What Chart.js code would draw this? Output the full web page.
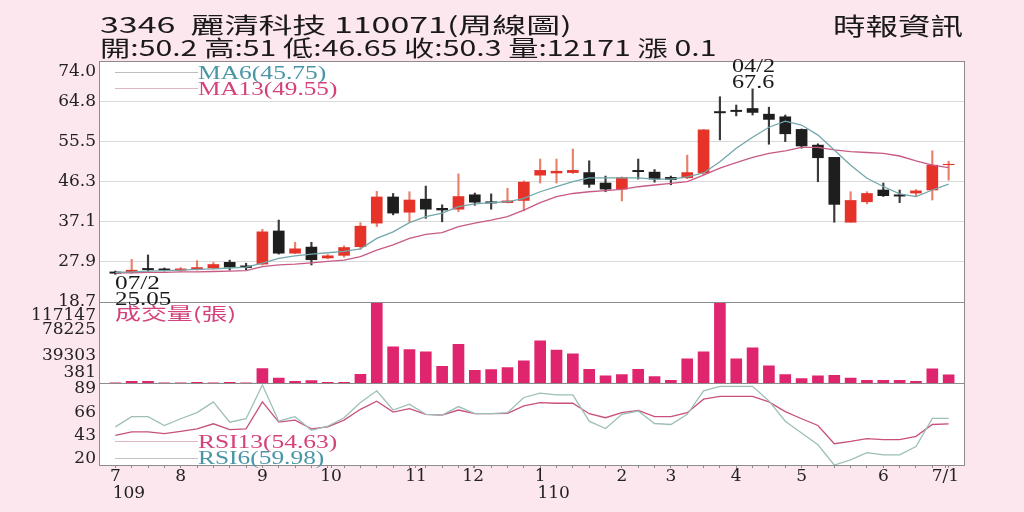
<!DOCTYPE html>
<html>
<head>
<meta charset="utf-8">
<script src="https://cdn.jsdelivr.net/npm/chart.js"></script>
<style>
body{margin:0;background:#fde7ee;}
#page{position:relative;width:1024px;height:512px;overflow:hidden;background:#fde7ee;}
.box{position:absolute;left:0;width:975px;}
.plot{position:absolute;left:99px;width:866px;top:61px;height:404px;background:#fff;}
.txt{position:absolute;white-space:pre;line-height:1;transform-origin:0 0;}
.rule{position:absolute;left:115px;width:83px;height:1px;}
</style>
</head>
<body>
<div id="page">
  <div class="plot"></div>
  <div class="box" style="top:37px;height:289px"><canvas id="price"></canvas></div>
  <div class="box" style="top:272px;height:141px"><canvas id="volume"></canvas></div>
  <div class="box" style="top:359px;height:153px"><canvas id="rsi"></canvas></div>
  <div class="rule" style="top:72px;background:#bdbdbd"></div>
  <div class="rule" style="top:88px;background:#dcb6c3"></div>
  <div class="rule" style="top:441px;background:#dcb6c3"></div>
  <div class="rule" style="top:458px;background:#c4c4c4"></div>
</div>

<script>
// weekly candles, 2020/07/02 .. 2021/07/01
const openP  = [25.6,25.5,26.4,26.3,26.0,26.2,26.5,27.8,27.0,27.4,35.0,29.9,31.3,28.8,29.4,31.4,36.8,42.8,39.3,42.3,
                40.2,40.0,43.3,41.7,41.5,42.0,47.8,48.3,48.4,48.4,46.0,44.6,48.9,48.5,47.3,47.2,48.3,62.4,62.7,63.1,
                61.8,61.2,58.3,54.7,51.9,37.0,41.7,44.4,43.3,43.7,44.4,50.2];
const highP  = [25.8,28.5,29.5,26.5,26.6,28.2,27.8,28.3,27.6,35.4,37.5,32.4,32.4,29.6,31.6,36.9,44.1,43.6,44.0,45.3,
                41.0,48.1,43.7,43.5,44.8,46.5,51.5,51.5,53.8,51.1,47.6,47.4,51.5,49.1,47.6,52.4,58.3,65.8,63.9,67.6,
                63.4,61.6,58.4,55.0,51.9,44.0,44.0,46.0,44.4,44.5,53.4,51.0];
const lowP   = [25.05,25.3,25.8,25.8,25.8,26.0,26.3,26.0,26.1,27.2,29.7,29.8,27.2,28.6,29.0,30.8,36.0,38.7,37.1,37.9,
                37.1,39.4,40.9,40.0,41.4,39.6,46.0,46.0,48.2,45.0,44.0,41.9,46.9,46.2,45.6,47.0,47.9,55.9,61.4,61.6,
                54.9,55.5,54.0,46.3,37.0,37.0,41.2,42.9,41.5,43.1,42.1,46.65];
const closeP = [25.3,26.0,26.1,26.0,26.3,26.6,27.3,26.7,26.6,34.8,29.9,30.9,28.4,29.3,31.2,36.1,42.8,39.1,42.1,40.0,
                39.8,42.9,41.6,41.4,41.9,46.2,48.9,48.7,48.9,45.7,44.6,47.2,48.6,46.9,46.8,48.4,58.2,62.1,62.4,62.2,
                60.6,57.3,54.5,51.8,41.1,42.0,43.6,43.1,43.0,44.2,50.1,50.3];
const ma6  = [25.5,25.6,25.8,25.9,26.0,26.2,26.3,26.5,26.7,27.6,28.7,29.3,29.7,30.0,30.3,30.9,33.3,34.8,36.9,38.3,
              39.1,40.6,41.2,41.5,41.7,42.5,44.0,45.2,46.3,47.2,47.2,47.2,47.2,46.9,46.9,47.4,48.3,50.9,54.0,56.5,
              58.8,60.2,59.3,57.0,53.6,50.1,47.1,45.2,43.5,42.9,44.4,45.75];
const ma13 = [25.4,25.4,25.5,25.5,25.6,25.6,25.7,25.8,25.9,26.8,27.2,27.4,27.7,28.0,28.3,29.1,30.6,31.8,33.3,34.2,
              34.6,36.0,36.8,37.5,38.3,39.8,41.5,42.9,43.6,44.0,44.25,44.55,45.15,45.55,45.9,46.3,47.8,49.4,50.7,51.9,
              52.8,53.4,54.2,54.2,53.6,53.2,53.0,52.8,52.2,51.1,50.1,49.55];
const volume = [500,2700,2700,600,600,1500,600,1500,600,21200,7650,2700,3700,1200,1200,12900,117147,52700,48800,45500,
                24500,56100,18700,19700,22600,32300,61500,47800,42600,20200,10600,12500,20200,9500,4200,35300,45500,117147,35300,51300,
                25100,12500,6600,10600,11400,7650,4200,4200,4200,2700,20700,12171];
const rsi6  = [51.7,61.7,61.7,53,59.7,65.7,76.3,56.3,59.7,93,57.3,61.7,48.3,52.3,60.7,75.7,87.3,68.3,74,64,
               63.3,71.7,64.7,64.7,65.7,80.7,85,83.3,83.3,57.3,50,64,67.3,55,54,64,87.3,91.7,91.7,91.7,
               77.3,57.3,45.7,34,14,19,26.3,24,24,32.3,60,59.98];
const rsi13 = [43.3,46.7,46.7,45,47.3,49.7,54.7,49,49.7,76.3,56.3,58.3,49.7,51.7,58.3,69,77,66.3,69.7,64,
               63.3,68.3,64.7,64.7,65,72.3,75.7,75,75,64.7,60.7,65.7,68,61.7,61.7,65.7,79,81.7,81.7,81.7,
               76.3,66.7,59.7,53,35,37.3,40,39,39,42.3,54,54.63];

const priceTicks = [18.7,27.9,37.1,46.3,55.5,64.8,74.0];
const volTicks = [381,39303,78225,117147];
const rsiTicks = [20,43,66,89];
const monthPos = [0,4,9,13.2,18.4,21.9,26,31,34,38,42,47,50.8];
const monthLabels = ['7','8','9','10','11','12','1','2','3','4','5','6','7/1'];
const yearLabels = {0:'109',6:'110'};

const RED = '#e6332a', BLACK = '#1e1e1e';
const up = closeP.map((c, i) => c >= openP[i]);
const tickFont = {family:'DejaVu Serif', size:17};

const frame = {
  id: 'frame',
  afterDraw(chart) {
    const a = chart.chartArea, c = chart.ctx;
    c.save();
    c.strokeStyle = '#8c8c8c';
    c.lineWidth = 1;
    c.strokeRect(Math.round(a.left) + 0.5, Math.round(a.top) + 0.5,
                 Math.round(a.right - a.left) - 1, Math.round(a.bottom - a.top));
    c.restore();
  }
};

function xHidden() {
  return {type:'linear', min:-1, max:52, offset:false, display:false};
}
function yAxis(min, max, ticks, fmt, extra) {
  return Object.assign({
    min: min, max: max,
    afterFit: s => { s.width = 99; },
    afterBuildTicks: s => { s.ticks = ticks.map(v => ({value: v})); },
    ticks: {font: tickFont, color:'#222', padding:3, autoSkip:false, callback: fmt},
    grid: {display:false, drawTicks:false},
    border: {display:false}
  }, extra || {});
}
const common = {
  responsive: true, maintainAspectRatio: false, animation: false,
  plugins: {legend:{display:false}, tooltip:{enabled:false}}
};

new Chart(document.getElementById('price'), {
  type: 'bar',
  data: {datasets: [
    {type:'line', data: ma6.map((v, i) => ({x:i, y:v})), borderColor:'#72a7ab', borderWidth:1.3, pointRadius:0, order:0},
    {type:'line', data: ma13.map((v, i) => ({x:i, y:v})), borderColor:'#c85a86', borderWidth:1.3, pointRadius:0, order:0},
    {data: openP.map((o, i) => ({x:i, y:[o, closeP[i]]})), backgroundColor: up.map(u => u ? RED : BLACK),
     barThickness:11, grouped:false, order:1},
    {data: lowP.map((l, i) => ({x:i, y:[l, highP[i]]})), backgroundColor: up.map(u => u ? '#e8806c' : '#3a3a3a'),
     barThickness:1.5, grouped:false, order:2}
  ]},
  options: Object.assign({}, common, {
    layout: {padding:{top:24, bottom:24, left:0, right:10}},
    scales: {
      x: xHidden(),
      y: yAxis(18.7, 74, priceTicks, v => v === 74 ? ['', v.toFixed(1)] : v.toFixed(1), {
        grid: {drawTicks:false, color: c => (c.tick && (c.tick.value === 74 || c.tick.value === 18.7)) ? 'rgba(0,0,0,0)' : '#dadada'}
      })
    }
  }),
  plugins: [frame]
});

new Chart(document.getElementById('volume'), {
  type: 'bar',
  data: {datasets: [
    {data: volume.map((v, i) => ({x:i, y:v})), backgroundColor:'#e0256f', barThickness:11, base:381}
  ]},
  options: Object.assign({}, common, {
    layout: {padding:{top:30, bottom:30, left:0, right:10}},
    scales: {
      x: xHidden(),
      y: yAxis(381, 117147, volTicks, null, {
        ticks: {color:'#222', padding:3, autoSkip:false,
          font: c => ({family:'DejaVu Serif', size:17, lineHeight: (c.tick && c.tick.value === 117147) ? 1.6 : 1.2}),
          callback: v => v === 117147 ? ['', String(v)] : (v === 381 ? [String(v), ''] : String(v))}
      })
    }
  }),
  plugins: [frame]
});

const xTicks = [...new Set([...monthPos, ...volume.map((_, i) => i)])].sort((a, b) => a - b);
new Chart(document.getElementById('rsi'), {
  type: 'line',
  data: {datasets: [
    {data: rsi6.map((v, i) => ({x:i, y:v})), borderColor:'#9dbfb8', borderWidth:1.3, pointRadius:0},
    {data: rsi13.map((v, i) => ({x:i, y:v})), borderColor:'#c8507e', borderWidth:1.3, pointRadius:0}
  ]},
  options: Object.assign({}, common, {
    layout: {padding:{top:24, bottom:7, left:0, right:10}},
    scales: {
      x: {type:'linear', min:-1, max:52, offset:false,
        afterBuildTicks: s => { s.ticks = xTicks.map(v => ({value: v})); },
        afterFit: s => { s.height = 40; },
        ticks: {autoSkip:false, maxRotation:0, minRotation:0, padding:0, color:'#222',
          font: {family:'DejaVu Serif', size:17, lineHeight:1},
          callback: v => {
            const k = monthPos.indexOf(v);
            if (k < 0) return '';
            return yearLabels[k] ? [monthLabels[k], '     ' + yearLabels[k]] : monthLabels[k];
          }},
        grid: {drawOnChartArea:false, drawTicks:true, tickLength:3, color:'#8a8a8a'},
        border: {display:false}
      },
      y: yAxis(14, 95, rsiTicks, v => String(v))
    }
  }),
  plugins: [frame]
});

// header, legends and notes
const page = document.getElementById('page');
function place(text, left, right, cy, size, family, color, k) {
  const el = document.createElement('div');
  el.className = 'txt';
  el.textContent = text;
  el.style.fontFamily = family;
  el.style.fontSize = size + 'px';
  el.style.color = color;
  el.style.left = left + 'px';
  el.style.top = (cy - k * size) + 'px';
  page.appendChild(el);
  el.style.transform = 'scaleX(' + ((right - left) / el.offsetWidth) + ')';
}
const SANS = '"Noto Sans CJK TC", "Noto Sans", sans-serif';
const SERIF = '"Liberation Serif", serif';
const TEAL = '#4a95a6', PINK = '#d4417b';
place('3346  麗清科技 110071(周線圖)', 100, 572, 25, 22, SANS, '#1a1a1a', 0.57);
place('開:50.2 高:51 低:46.65 收:50.3 量:12171 漲 0.1', 100, 717, 48, 22, SANS, '#1a1a1a', 0.57);
place('時報資訊', 833, 963, 27, 24, SANS, '#1a1a1a', 0.57);
place('MA6(45.75)', 198, 327, 73, 18, SERIF, TEAL, 0.506);
place('MA13(49.55)', 198, 338, 89, 18, SERIF, PINK, 0.506);
place('成交量(張)', 115, 237, 314, 17, SANS, PINK, 0.57);
place('RSI13(54.63)', 198, 338, 442, 18, SERIF, PINK, 0.506);
place('RSI6(59.98)', 198, 325, 458, 18, SERIF, TEAL, 0.506);
place('07/2', 115, 160, 283, 18, SERIF, '#1a1a1a', 0.506);
place('25.05', 115, 172, 299, 18, SERIF, '#1a1a1a', 0.506);
place('04/2', 732, 775, 66, 18, SERIF, '#1a1a1a', 0.506);
place('67.6', 732, 775, 82, 18, SERIF, '#1a1a1a', 0.506);
</script>
</body>
</html>
